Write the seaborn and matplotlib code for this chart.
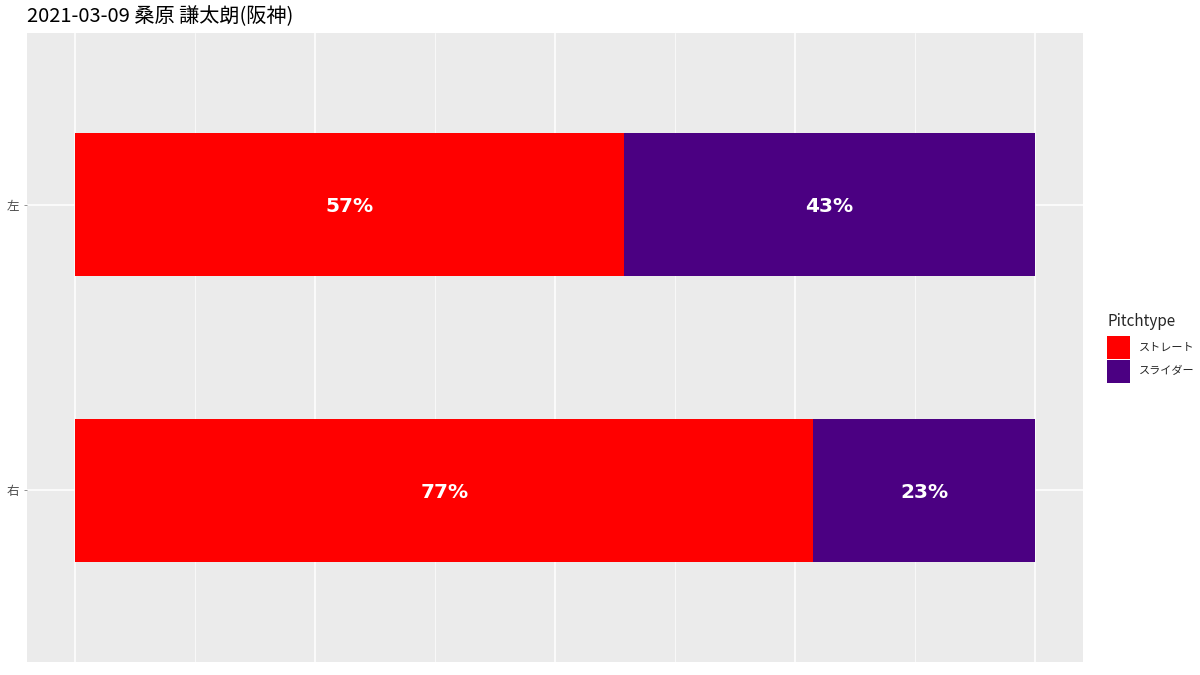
import matplotlib
matplotlib.use("Agg")
import matplotlib.pyplot as plt
import seaborn as sns
import pandas as pd
import numpy as np
from matplotlib.patches import Patch

sides = ["左", "右"]
pitch_types = ["ストレート", "スライダー"]
straight_counts = [4, 10]
slider_counts = [3, 3]
colors = {"ストレート": "#FF0000", "スライダー": "#4B0082"}
title = "2021-03-09 桑原 謙太朗(阪神)"

sns.set_theme(style="darkgrid")
plt.rcParams["font.family"] = ["Noto Sans CJK JP", "DejaVu Sans"]

totals = np.array(straight_counts) + np.array(slider_counts)
straight_p = np.array(straight_counts) / totals
slider_p = np.array(slider_counts) / totals
df = pd.DataFrame({"side": sides, "straight": straight_p, "total": straight_p + slider_p})

fig = plt.figure(figsize=(12, 6.75), dpi=100)
ax = fig.add_axes([27 / 1200, 1 - 662 / 675, (1083 - 27) / 1200, (662 - 33) / 675])
ax.set_facecolor("#EBEBEB")

sns.barplot(data=df, x="total", y="side", order=sides, color=colors["スライダー"],
            width=0.5, orient="h", ax=ax, saturation=1, zorder=2, linewidth=0, edgecolor="none")
sns.barplot(data=df, x="straight", y="side", order=sides, color=colors["ストレート"],
            width=0.5, orient="h", ax=ax, saturation=1, zorder=3, linewidth=0, edgecolor="none")

for i in range(len(sides)):
    ax.text(straight_p[i] / 2, i, f"{straight_p[i]*100:.0f}%", color="white",
            fontsize=14.5, fontweight="bold", ha="center", va="center_baseline", zorder=4,
            family=["DejaVu Sans"])
    ax.text(straight_p[i] + slider_p[i] / 2, i, f"{slider_p[i]*100:.0f}%", color="white",
            fontsize=14.5, fontweight="bold", ha="center", va="center_baseline", zorder=4,
            family=["DejaVu Sans"])

ax.set_xlim(-0.05, 1.05)
ax.set_ylim(1.6, -0.6)
ax.set_xticks([0, 0.25, 0.5, 0.75, 1.0])
ax.set_xticks([0.125, 0.375, 0.625, 0.875], minor=True)
ax.set_xticklabels([])
ax.grid(False)
ax.grid(True, which="major", axis="both", color="white", linewidth=1.1, zorder=0)
ax.grid(True, which="minor", axis="x", color="white", linewidth=0.5, zorder=0)
ax.set_axisbelow(True)
ax.tick_params(axis="x", which="both", length=0)
ax.tick_params(axis="y", length=2.5, width=0.5, color="#666666", labelsize=9, labelcolor="#4D4D4D", pad=3, left=True)
ax.set_xlabel("")
ax.set_ylabel("")
for s in ax.spines.values():
    s.set_visible(False)

fig.text(27 / 1200, 1 - 17 / 675, title, fontsize=14.5, ha="left", va="center", color="black")

handles = [Patch(facecolor=colors[p], edgecolor="none", label=p) for p in pitch_types]
leg = fig.legend(handles=handles, title="Pitchtype", loc="upper left",
                 bbox_to_anchor=(1103 / 1200, 1 - 309 / 675), frameon=False,
                 fontsize=8, title_fontsize=11, handlelength=2.0, handleheight=2.75,
                 handletextpad=0.8, labelspacing=0.12, borderaxespad=0)
leg._legend_box.align = "left"
leg._legend_box.sep = 4

fig.savefig("out.png", dpi=100)
